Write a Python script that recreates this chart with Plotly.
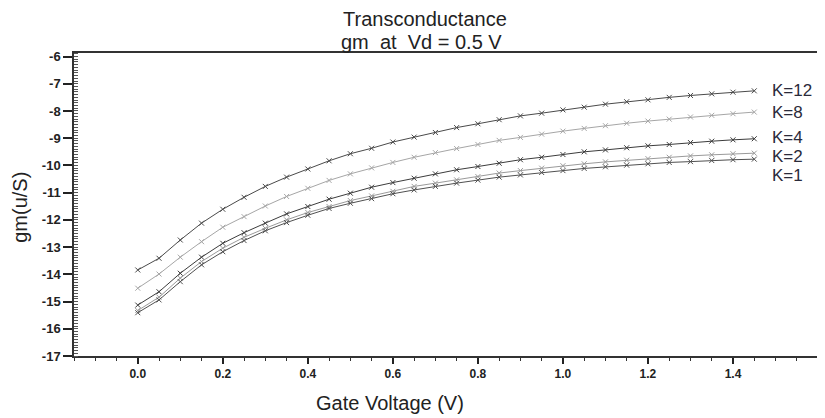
import plotly.graph_objects as go

gate_voltage = [round(0.05 * i, 2) for i in range(30)]

gm_k12 = [-13.84, -13.41, -12.74, -12.12, -11.61, -11.17, -10.77, -10.43, -10.13, -9.83,
          -9.57, -9.37, -9.14, -8.96, -8.79, -8.61, -8.47, -8.32, -8.18, -8.08,
          -7.96, -7.86, -7.75, -7.66, -7.59, -7.50, -7.43, -7.37, -7.31, -7.26]
gm_k8 = [-14.51, -13.99, -13.37, -12.80, -12.27, -11.88, -11.49, -11.14, -10.84, -10.55,
         -10.31, -10.09, -9.89, -9.70, -9.53, -9.38, -9.23, -9.08, -8.97, -8.85,
         -8.74, -8.64, -8.54, -8.45, -8.37, -8.30, -8.22, -8.16, -8.10, -8.04]
gm_k4 = [-15.13, -14.64, -13.96, -13.37, -12.86, -12.47, -12.12, -11.78, -11.51, -11.24,
         -11.02, -10.80, -10.63, -10.47, -10.31, -10.16, -10.04, -9.92, -9.79, -9.70,
         -9.60, -9.50, -9.43, -9.35, -9.28, -9.23, -9.16, -9.11, -9.06, -9.02]
gm_k2 = [-15.33, -14.84, -14.14, -13.53, -13.04, -12.64, -12.31, -12.00, -11.73, -11.51,
         -11.29, -11.12, -10.95, -10.77, -10.65, -10.53, -10.41, -10.28, -10.19, -10.10,
         -10.01, -9.94, -9.87, -9.81, -9.75, -9.70, -9.65, -9.61, -9.57, -9.55]
gm_k1 = [-15.41, -14.94, -14.27, -13.65, -13.17, -12.76, -12.40, -12.10, -11.83, -11.58,
         -11.39, -11.22, -11.04, -10.90, -10.77, -10.65, -10.54, -10.43, -10.35, -10.26,
         -10.19, -10.11, -10.05, -9.99, -9.94, -9.89, -9.86, -9.82, -9.79, -9.77]

series_names = ["K=12", "K=8", "K=4", "K=2", "K=1"]
series_values = [gm_k12, gm_k8, gm_k4, gm_k2, gm_k1]

y_tick_values = [-17, -16, -15, -14, -13, -12, -11, -10, -9, -8, -7, -6]
y_tick_labels = ["-17", "-16", "-15", "-14", "-13", "-12", "-11", "-10", "-9", "-8", "-7", "-6"]

title_lines = ["Transconductance", "gm  at  Vd = 0.5 V"]
x_title = "Gate Voltage (V)"
y_title = "gm(u/S)"

# styling
colors = ["#4a4a4a", "#a6a6a6", "#3c3c3c", "#9a9a9a", "#505050"]
label_yshift = [0, 0, 1, -3, -16]
FONT = "Liberation Sans, Arial, sans-serif"
TXT = "#222222"

fig = go.Figure()
for name, vals, col in zip(series_names, series_values, colors):
    fig.add_trace(go.Scatter(
        x=gate_voltage, y=vals, mode="lines+markers", name=name,
        line=dict(color=col, width=1),
        marker=dict(symbol="x-thin", size=5, line=dict(color=col, width=1), color=col),
        showlegend=False,
    ))

for name, vals, col, ys in zip(series_names, series_values, colors, label_yshift):
    fig.add_annotation(
        x=gate_voltage[-1], y=vals[-1], text=name, showarrow=False,
        xanchor="left", yanchor="middle", xshift=16, yshift=ys,
        font=dict(family=FONT, size=17, color="#2a2a3a"),
    )

# title (two lines) and axis titles
fig.add_annotation(x=0.47, y=1, xref="paper", yref="paper", text=title_lines[0],
                   showarrow=False, xanchor="center", yanchor="middle", yshift=34,
                   font=dict(family=FONT, size=20, color=TXT))
fig.add_annotation(x=0.465, y=1, xref="paper", yref="paper", text=title_lines[1],
                   showarrow=False, xanchor="center", yanchor="middle", yshift=11,
                   font=dict(family=FONT, size=20, color=TXT))
fig.add_annotation(x=0.423, y=0, xref="paper", yref="paper", text=x_title,
                   showarrow=False, xanchor="center", yanchor="middle", yshift=-47,
                   font=dict(family=FONT, size=20, color=TXT))
fig.add_annotation(x=-0.0725, y=0.492, xref="paper", yref="paper", text=y_title,
                   showarrow=False, xanchor="center", yanchor="middle", textangle=-90,
                   font=dict(family=FONT, size=20, color=TXT))

# the page body adds an 8px offset, so the figure is sized to fit the window
fig.update_layout(
    width=817, height=410,
    margin=dict(l=66, r=4, t=45, b=62, autoexpand=False),
    paper_bgcolor="white", plot_bgcolor="white",
    xaxis=dict(
        range=[-0.15, 1.607], tick0=0, dtick=0.2, tickformat=".1f",
        showgrid=False, zeroline=False, automargin=False,
        showline=True, mirror=True, linecolor="#333333", linewidth=1.5,
        ticks="outside", ticklen=6, tickcolor="#222222", tickwidth=1.5,
        minor=dict(dtick=0.05, ticks="outside", ticklen=3, tickcolor="#333333", tickwidth=1),
        tickfont=dict(family=FONT, size=12, color=TXT, weight="bold"),
    ),
    yaxis=dict(
        range=[-17, -5.87], tickvals=y_tick_values, ticktext=y_tick_labels,
        showgrid=False, zeroline=False, automargin=False,
        showline=True, mirror=True, linecolor="#333333", linewidth=1.5,
        ticks="outside", ticklen=9, tickcolor="#222222", tickwidth=1.5,
        minor=dict(dtick=0.1, ticks="inside", ticklen=4, tickcolor="#555555", tickwidth=1),
        tickfont=dict(family=FONT, size=13, color=TXT, weight="bold"),
    ),
)

fig.write_html("out.html")
